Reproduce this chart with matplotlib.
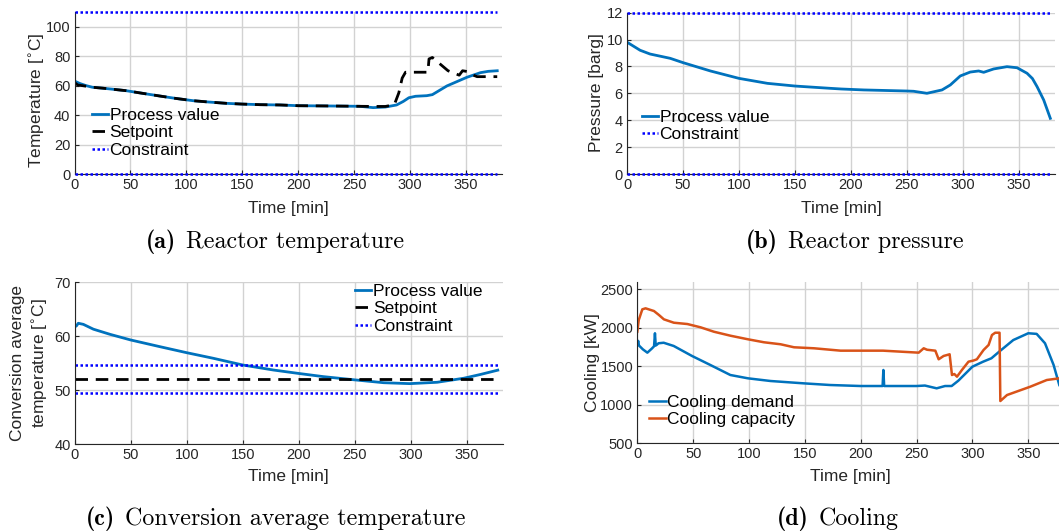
import matplotlib
matplotlib.use('Agg')
import matplotlib.pyplot as plt

# ---------------- data ----------------
# (a) reactor temperature
t_a = [0, 5, 10, 16, 25, 35, 46, 60, 76, 90, 106, 120, 136, 150, 166, 184, 200, 230,
       255, 267, 278, 288, 294, 299, 305, 315, 320, 333, 351, 363, 370, 378]
pv_a = [63, 61.3, 60, 58.8, 58.2, 57.4, 56.5, 54.8, 52.9, 51.3, 49.7, 48.8, 47.9, 47.4, 47.0,
        46.8, 46.3, 46.1, 45.9, 45.0, 45.4, 46.8, 49.2, 51.7, 52.7, 53.1, 53.8, 59.7, 65.6,
        68.7, 69.6, 70.0]
t_sp_a = [0, 3, 8, 16, 25, 35, 46, 60, 76, 90, 106, 120, 136, 150, 166, 184, 200, 230, 255,
          267, 278, 286, 290, 293, 296, 316, 317, 320, 334, 344, 347, 351, 355, 360, 378]
sp_a = [62, 60.3, 59.8, 58.8, 58.2, 57.4, 56.5, 54.8, 52.9, 51.3, 49.7, 48.8, 47.9, 47.4, 47.0,
        46.8, 46.3, 46.1, 45.9, 45.8, 45.8, 47, 55, 65, 69, 69, 78, 79, 70, 67, 70, 69.5,
        67.5, 66, 66]
con_a = [0, 110]

# (b) reactor pressure
t_b = [1, 11.7, 20.6, 38.6, 50, 74.5, 100, 125.4, 150, 181.5, 191.4, 211.3, 250, 256, 267.8,
       281.3, 288.7, 297.6, 306.5, 314, 318.5, 327.4, 339.3, 348.3, 357.2, 362, 366.2, 372.1, 378]
p_b = [9.75, 9.2, 8.92, 8.6, 8.28, 7.66, 7.11, 6.74, 6.54, 6.37, 6.32, 6.25, 6.17, 6.15, 6.0,
       6.25, 6.62, 7.29, 7.58, 7.66, 7.56, 7.81, 7.98, 7.9, 7.49, 7.1, 6.49, 5.5, 4.14]
con_b = [0, 12]

# (c) conversion average temperature
t_c = [0.5, 1.5, 3.2, 7.7, 16.7, 31.5, 50, 76.2, 100, 123.8, 150, 177.3, 199.6, 222, 250,
       275.9, 299.2, 323.6, 347.4, 362.3, 377.8]
pv_c = [61.8, 61.9, 62.4, 62.2, 61.3, 60.35, 59.3, 58.05, 56.94, 55.9, 54.66, 53.73, 53.1,
        52.5, 51.9, 51.37, 51.2, 51.45, 52.2, 52.9, 53.7]
sp_c = 52.0
con_c = [49.4, 54.6]

# (d) cooling
t_dem = [0, 0.8, 1.5, 5, 9, 13, 15, 15.8, 16.5, 17.5, 19, 23.6, 32.6, 49, 65.4, 83.3, 99,
         119.3, 148.6, 172.6, 200, 219.6, 220.3, 221, 250, 257.5, 268, 275.5, 281.4, 287.4,
         300, 309.6, 317, 324.7, 336.6, 350, 357.5, 365, 372.7, 377.8]
dem = [1780, 1830, 1770, 1720, 1677, 1730, 1760, 1929, 1770, 1780, 1799, 1806, 1764, 1634,
       1517, 1387, 1344, 1309, 1279, 1257, 1244, 1244, 1452, 1244, 1244, 1250, 1214, 1244,
       1244, 1313, 1495, 1560, 1604, 1699, 1841, 1929, 1921, 1799, 1517, 1257]
t_cap = [0, 1.3, 4.5, 7.4, 14.9, 19.4, 23.8, 32.7, 44.8, 56.7, 68.6, 83.5, 99, 113.4, 128.3,
         140.3, 158.2, 182, 220, 251.9, 256.4, 259.4, 266.8, 269.8, 274.2, 279.6, 281.7, 283.8,
         286.2, 290.6, 296.5, 301, 304, 310, 314.5, 317.5, 320.4, 324.3, 325, 331, 351.8,
         366.6, 377.8]
cap = [1949, 2101, 2240, 2253, 2218, 2166, 2110, 2066, 2049, 2006, 1949, 1897, 1851, 1812,
       1786, 1747, 1734, 1703, 1703, 1677, 1734, 1715, 1703, 1591, 1634, 1656, 1387, 1400,
       1365, 1452, 1560, 1575, 1591, 1712, 1777, 1906, 1936, 1936, 1049, 1127, 1235, 1322, 1344]

x_ticks = [0, 50, 100, 150, 200, 250, 300, 350]
t_end = 378

# ---------------- styling ----------------
W, H = 1059, 532
plt.rcParams['font.family'] = ['Liberation Sans', 'DejaVu Sans']
fig = plt.figure(figsize=(W / 100, H / 100), dpi=100)

BLUE = '#0072BD'
ORANGE = '#D95319'
CBLUE = '#0000FF'
GRAY = '#262626'


def add_ax(x0, x1, top, bot):
    return fig.add_axes([x0 / W, 1 - bot / H, (x1 - x0) / W, (bot - top) / H])


def style(ax, yticks, ylim):
    ax.set_xlim(0, 382)
    ax.set_ylim(*ylim)
    ax.set_xticks(x_ticks)
    ax.set_yticks(yticks)
    ax.grid(True, color='#d2d2d2', lw=1.0)
    ax.set_axisbelow(True)
    for s in ['top', 'right']:
        ax.spines[s].set_visible(False)
    for s in ['left', 'bottom']:
        ax.spines[s].set_color(GRAY)
        ax.spines[s].set_linewidth(0.8)
    ax.tick_params(direction='in', length=3, width=0.8, colors=GRAY, labelsize=10.5, pad=3)


def legend(ax, x, top):
    ax.legend(loc='upper left', bbox_to_anchor=(x / W, 1 - top / H), bbox_transform=fig.transFigure,
              frameon=False, fontsize=12.5, handlelength=0.95, handletextpad=0.08,
              labelspacing=0.12, borderpad=0, borderaxespad=0)


def xlabel(ax_x0, ax_x1, y):
    fig.text((ax_x0 + ax_x1) / 2 / W, 1 - y / H, 'Time [min]', ha='center', va='center',
             fontsize=12.5, color=GRAY)


def ylabel(x, y, s, ls=1.0):
    fig.text(x / W, 1 - y / H, s, ha='center', va='center', rotation=90, fontsize=12.5,
             color=GRAY, linespacing=ls)


dash = (4.5, 2.8)
dot = (1, 1)

# (a)
ax = add_ax(74.5, 501.7, 11.75, 174)
style(ax, [0, 20, 40, 60, 80, 100], (0, 110))
ax.plot(t_a, pv_a, color=BLUE, lw=2.0, label='Process value')
ax.plot(t_sp_a, sp_a, color='k', lw=2.0, dashes=dash, label='Setpoint')
for i, c in enumerate(con_a):
    ax.plot([0, t_end], [c, c], color=CBLUE, lw=1.8, dashes=dot, clip_on=False, zorder=5,
            label='Constraint' if i == 0 else None)
legend(ax, 91.7, 108)
xlabel(74.5, 501.7, 208)
ylabel(37.5, 100, 'Temperature [$^{\\circ}$C]')

# (b)
ax = add_ax(627, 1054.8, 12.6, 174)
style(ax, [0, 2, 4, 6, 8, 10, 12], (0, 12))
ax.plot(t_b, p_b, color=BLUE, lw=2.0, label='Process value')
for i, c in enumerate(con_b):
    ax.plot([0, t_end], [c, c], color=CBLUE, lw=1.8, dashes=dot, clip_on=False, zorder=5,
            label='Constraint' if i == 0 else None)
legend(ax, 641.7, 110)
xlabel(627, 1054.8, 208)
ylabel(596, 93, 'Pressure [barg]')

# (c)
ax = add_ax(74.7, 502.5, 282.3, 444)
style(ax, [40, 50, 60, 70], (40, 70))
ax.plot(t_c, pv_c, color=BLUE, lw=2.0, label='Process value')
ax.plot([0, t_end], [sp_c, sp_c], color='k', lw=2.0, dashes=dash, label='Setpoint')
for i, c in enumerate(con_c):
    ax.plot([0, t_end], [c, c], color=CBLUE, lw=1.8, dashes=dot,
            label='Constraint' if i == 0 else None)
legend(ax, 355, 284)
xlabel(74.7, 502.5, 476.7)
ylabel(30, 363, 'Conversion average\ntemperature [$^{\\circ}$C]', ls=1.35)

# (d)
ax = add_ax(637.3, 1064, 281.6, 443.3)
style(ax, [500, 1000, 1500, 2000, 2500], (500, 2600))
ax.plot(t_dem, dem, color=BLUE, lw=1.8, label='Cooling demand')
ax.plot(t_cap, cap, color=ORANGE, lw=1.8, label='Cooling capacity')
legend(ax, 649.3, 395)
xlabel(637.3, 1064, 476.7)
ylabel(592, 363, 'Cooling [kW]')

# ---------------- captions ----------------
renderer = fig.canvas.get_renderer()


def caption(cx, base_y, tag, text, size=17.3):
    t1 = fig.text(0, 0, tag, fontname='cmb10', fontsize=size, va='baseline')
    t2 = fig.text(0, 0, text, fontname='cmr10', fontsize=size, va='baseline')
    w1 = t1.get_window_extent(renderer).width
    w2 = t2.get_window_extent(renderer).width
    gap = 10
    x0 = cx - (w1 + gap + w2) / 2
    t1.set_position((x0 / W, 1 - base_y / H))
    t2.set_position(((x0 + w1 + gap) / W, 1 - base_y / H))


caption(275, 248, '(a)', 'Reactor temperature')
caption(855, 248, '(b)', 'Reactor pressure')
caption(276, 525, '(c)', 'Conversion average temperature')
caption(838, 525, '(d)', 'Cooling')

fig.savefig('out.png', dpi=100)
